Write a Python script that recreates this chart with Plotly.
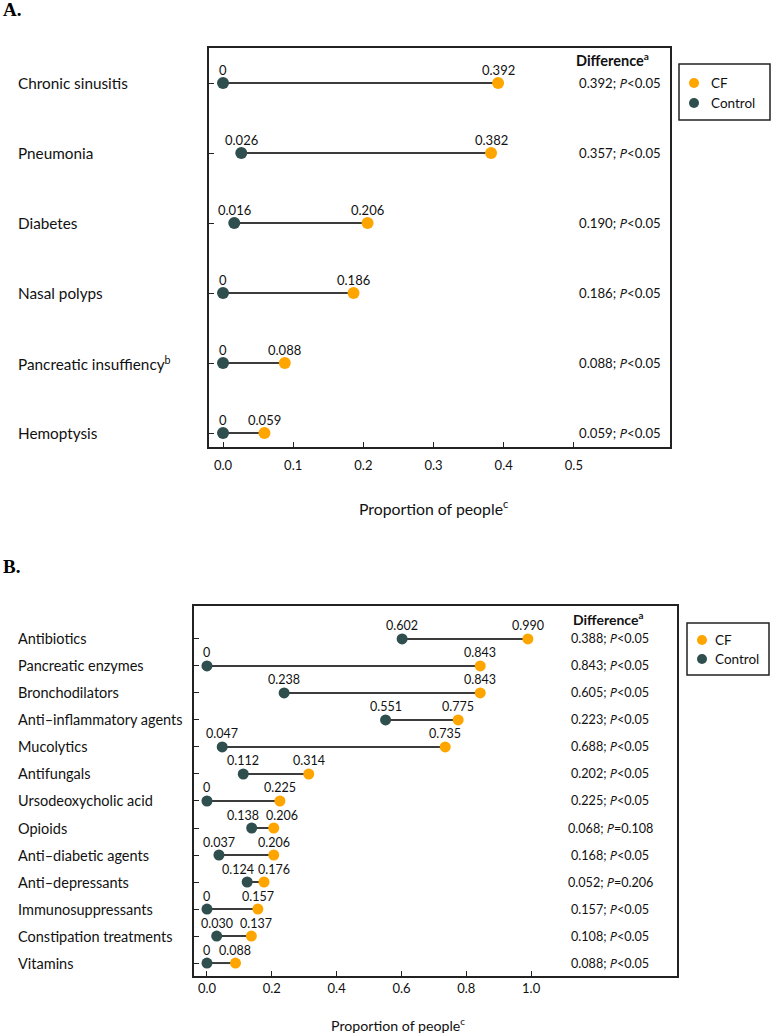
import plotly.graph_objects as go

# ---------------- Data ----------------
cats_A = ["Chronic sinusitis", "Pneumonia", "Diabetes", "Nasal polyps",
          "Pancreatic insuffiency<sup>b</sup>", "Hemoptysis"]
cf_A = [0.392, 0.382, 0.206, 0.186, 0.088, 0.059]
ctrl_A = [0, 0.026, 0.016, 0, 0, 0]
diff_A = ["0.392", "0.357", "0.190", "0.186", "0.088", "0.059"]
p_A = ["<0.05", "<0.05", "<0.05", "<0.05", "<0.05", "<0.05"]
ticks_A = [0.0, 0.1, 0.2, 0.3, 0.4, 0.5]

cats_B = ["Antibiotics", "Pancreatic enzymes", "Bronchodilators",
          "Anti–inflammatory agents", "Mucolytics", "Antifungals",
          "Ursodeoxycholic acid", "Opioids", "Anti–diabetic agents",
          "Anti–depressants", "Immunosuppressants", "Constipation treatments",
          "Vitamins"]
cf_B = [0.990, 0.843, 0.843, 0.775, 0.735, 0.314, 0.225, 0.206, 0.206,
        0.176, 0.157, 0.137, 0.088]
ctrl_B = [0.602, 0, 0.238, 0.551, 0.047, 0.112, 0, 0.138, 0.037,
          0.124, 0, 0.030, 0]
diff_B = ["0.388", "0.843", "0.605", "0.223", "0.688", "0.202", "0.225",
          "0.068", "0.168", "0.052", "0.157", "0.108", "0.088"]
p_B = ["<0.05", "<0.05", "<0.05", "<0.05", "<0.05", "<0.05", "<0.05",
       "=0.108", "<0.05", "=0.206", "<0.05", "<0.05", "<0.05"]
ticks_B = [0.0, 0.2, 0.4, 0.6, 0.8, 1.0]

# ---------------- Style ----------------
W, H = 772, 1034
ORANGE = "#FFA500"
DARK = "#2F4F4F"
LINE = "#3c3c3c"
FRAME = "#222222"
TXT = "#111111"
FONT = "Lato"
ITALIC_P = "<i><span style='font-family:Noto Sans;font-style:italic'>P</span></i>"

# small horizontal nudges (pixels) for value labels that would collide
NUDGE_B_CTRL = {7: -9, 9: -9}
NUDGE_B_CF = {7: 8, 9: 10, 11: 5}


def px(x):
    return x / W


def py(y):
    return 1 - y / H


def fmt(v):
    return "0" if v == 0 else f"{v:.3f}"


def esc(s):
    return s.replace("<", "&lt;")


fig = go.Figure()
ann = []
shapes = []


def add_panel(cats, cf, ctrl, xa, ya, msize, lfont, nud_c, nud_f):
    xs, ys = [], []
    for c, f, cat in zip(ctrl, cf, cats):
        xs += [c, f, None]
        ys += [cat, cat, None]
    fig.add_trace(go.Scatter(x=xs, y=ys, mode="lines",
                             line=dict(color=LINE, width=2),
                             showlegend=False, hoverinfo="skip",
                             xaxis=xa, yaxis=ya))
    fig.add_trace(go.Scatter(x=ctrl, y=cats, mode="markers",
                             marker=dict(color=DARK, size=msize),
                             name="Control", showlegend=False,
                             cliponaxis=False, xaxis=xa, yaxis=ya))
    fig.add_trace(go.Scatter(x=cf, y=cats, mode="markers",
                             marker=dict(color=ORANGE, size=msize),
                             name="CF", showlegend=False,
                             cliponaxis=False, xaxis=xa, yaxis=ya))
    for i, (c, f) in enumerate(zip(ctrl, cf)):
        for v, sh in ((c, nud_c.get(i, 0)), (f, nud_f.get(i, 0))):
            ann.append(dict(text=fmt(v), x=v, y=i, xref=xa, yref=ya,
                            xanchor="center", yanchor="middle",
                            xshift=sh, yshift=13, showarrow=False,
                            font=dict(size=lfont, color=TXT, family=FONT)))


add_panel(cats_A, cf_A, ctrl_A, "x", "y", 12, 13, {}, {})
add_panel(cats_B, cf_B, ctrl_B, "x2", "y2", 11, 12.5, NUDGE_B_CTRL, NUDGE_B_CF)

# panel letters
for lab, yy in (("A.", 10), ("B.", 566)):
    ann.append(dict(text=f"<b>{lab}</b>", xref="paper", yref="paper",
                    x=px(1), y=py(yy), xanchor="left", yanchor="middle",
                    showarrow=False,
                    font=dict(family="Liberation Serif", size=19, color="black")))

# category labels (left aligned)
for i, c in enumerate(cats_A):
    ann.append(dict(text=c, xref="paper", yref="y", x=px(16), y=i,
                    xanchor="left", yanchor="middle", showarrow=False,
                    font=dict(size=15.3, color=TXT, family=FONT)))
for i, c in enumerate(cats_B):
    ann.append(dict(text=c, xref="paper", yref="y2", x=px(16), y=i,
                    xanchor="left", yanchor="middle", showarrow=False,
                    font=dict(size=14.5, color=TXT, family=FONT)))

# difference column
ann.append(dict(text="<b>Difference<sup>a</sup></b>", xref="paper", yref="paper",
                x=px(612), y=py(59), xanchor="center", yanchor="middle",
                showarrow=False, font=dict(size=14.5, color=TXT, family=FONT)))
ann.append(dict(text="<b>Difference<sup>a</sup></b>", xref="paper", yref="paper",
                x=px(608), y=py(618), xanchor="center", yanchor="middle",
                showarrow=False, font=dict(size=14, color=TXT, family=FONT)))
for i, (d, p) in enumerate(zip(diff_A, p_A)):
    ann.append(dict(text=f"{d}; {ITALIC_P}{esc(p)}", xref="paper", yref="y",
                    x=px(620), y=i, xanchor="center", yanchor="middle",
                    showarrow=False, font=dict(size=13.2, color=TXT, family=FONT)))
for i, (d, p) in enumerate(zip(diff_B, p_B)):
    ann.append(dict(text=f"{d}; {ITALIC_P}{esc(p)}", xref="paper", yref="y2",
                    x=px(610), y=i, xanchor="center", yanchor="middle",
                    showarrow=False, font=dict(size=12.6, color=TXT, family=FONT)))

# axis titles
ann.append(dict(text="Proportion of people<sup>c</sup>", xref="paper", yref="paper",
                x=px(433), y=py(507), xanchor="center", yanchor="middle",
                showarrow=False, font=dict(size=15.8, color=TXT, family=FONT)))
ann.append(dict(text="Proportion of people<sup>c</sup>", xref="paper", yref="paper",
                x=px(398), y=py(1024), xanchor="center", yanchor="middle",
                showarrow=False, font=dict(size=14.2, color=TXT, family=FONT)))

# legends (drawn boxes)
legends = [
    dict(box=(679, 64, 770, 120), mx=694, tx=709, ys=(83, 103)),
    dict(box=(687, 623, 769, 675), mx=702, tx=713, ys=(640, 659)),
]
for lg in legends:
    x0, y0, x1, y1 = lg["box"]
    shapes.append(dict(type="rect", xref="paper", yref="paper",
                       x0=px(x0), x1=px(x1), y0=py(y1), y1=py(y0),
                       line=dict(color=FRAME, width=1.5), fillcolor="white",
                       layer="above"))
    for name, col, yy in (("CF", ORANGE, lg["ys"][0]), ("Control", DARK, lg["ys"][1])):
        shapes.append(dict(type="circle", xref="paper", yref="paper",
                           xsizemode="pixel", ysizemode="pixel",
                           xanchor=px(lg["mx"]), yanchor=py(yy),
                           x0=-5, x1=5, y0=-5, y1=5,
                           fillcolor=col, line=dict(width=0), layer="above"))
        ann.append(dict(text=name, xref="paper", yref="paper",
                        x=px(lg["tx"]), y=py(yy), xanchor="left", yanchor="middle",
                        showarrow=False,
                        font=dict(size=13.5, color=TXT, family=FONT)))

axis_common = dict(showline=True, mirror=True, linecolor=FRAME, linewidth=1.5,
                   showgrid=False, zeroline=False, ticks="inside", ticklen=5,
                   tickcolor=FRAME, tickwidth=1.2)

fig.update_layout(
    width=W, height=H,
    margin=dict(l=0, r=0, t=0, b=0, autoexpand=False),
    paper_bgcolor="white", plot_bgcolor="white",
    font=dict(family=FONT, color=TXT),
    showlegend=False,
    annotations=ann,
    shapes=shapes,
    xaxis=dict(domain=[px(209), px(670)], range=[-0.02, 0.637], anchor="y",
               tickvals=ticks_A, tickformat=".1f", tickfont=dict(size=13),
               ticklabelstandoff=6, **axis_common),
    yaxis=dict(domain=[py(447), py(48)], type="category", categoryarray=cats_A,
               range=[5.2, -0.5], anchor="x", showticklabels=False, **axis_common),
    xaxis2=dict(domain=[px(194), px(677)], range=[-0.04, 1.45], anchor="y2",
                tickvals=ticks_B, tickformat=".1f", tickfont=dict(size=13),
                ticklabelstandoff=0, **axis_common),
    yaxis2=dict(domain=[py(976), py(606)], type="category", categoryarray=cats_B,
                range=[12.48, -1.22], anchor="x2", showticklabels=False, **axis_common),
)

fig.write_html(
    "out.html",
    config={"displayModeBar": False},
    post_script="document.body.style.margin='0';document.body.style.overflow='hidden';",
)
